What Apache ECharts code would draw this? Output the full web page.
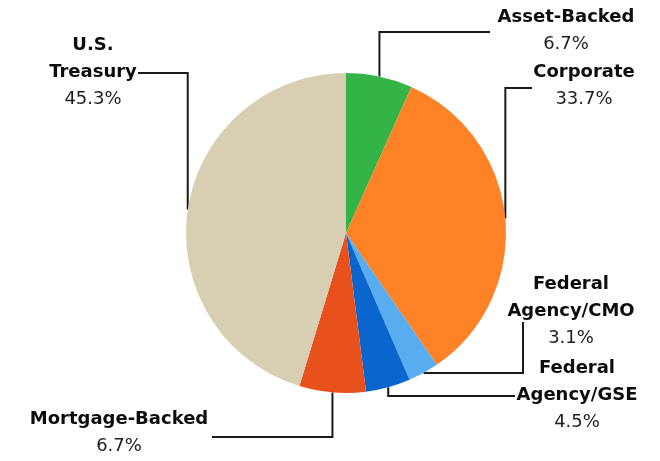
<!DOCTYPE html>
<html>
<head>
<meta charset="utf-8">
<script src="https://cdn.jsdelivr.net/npm/echarts@6/dist/echarts.min.js"></script>
<style>
  html, body { margin: 0; padding: 0; background: #ffffff; }
  #chart { width: 660px; height: 461px; }
</style>
</head>
<body>
<div id="chart"></div>
<script>
// Portfolio allocation by sector (percent of total)
const categories = [
  'Asset-Backed',
  'Corporate',
  'Federal\nAgency/CMO',
  'Federal\nAgency/GSE',
  'Mortgage-Backed',
  'U.S.\nTreasury'
];
const shares = [6.7, 33.7, 3.1, 4.5, 6.7, 45.3];
const sliceColors = ['#34b446', '#ff8226', '#58acf0', '#0a66cc', '#e8501c', '#d8cfb2'];

// Where each label block sits (centre), and how its elbow leader is routed:
// the leader drops/rises vertically from the slice, turns at elbowY and runs to endX.
const labelPlacement = [
  { x: 566, y: 31,  elbowY: 32,  endX: 490 },
  { x: 584, y: 86,  elbowY: 88,  endX: 532 },
  { x: 571, y: 311, elbowY: 373, endX: 523, rise: 322 },
  { x: 577, y: 395, elbowY: 396, endX: 515 },
  { x: 119, y: 433, elbowY: 437, endX: 212 },
  { x: 93,  y: 72,  elbowY: 73,  endX: 138 }
];

const chart = echarts.init(document.getElementById('chart'), null, { renderer: 'canvas' });

function sliceAnchor(dataIndex) {
  const data = chart.getModel().getSeriesByIndex(0).getData();
  const lay = data.getItemLayout(dataIndex);
  const mid = (lay.startAngle + lay.endAngle) / 2;
  return [lay.cx + lay.r * Math.cos(mid), lay.cy + lay.r * Math.sin(mid)];
}

chart.setOption({
  animation: false,
  backgroundColor: '#ffffff',
  series: [{
    type: 'pie',
    center: [346, 233],
    radius: 160,
    startAngle: 90,
    clockwise: true,
    silent: true,
    data: categories.map((name, i) => ({
      name: name,
      value: shares[i],
      itemStyle: { color: sliceColors[i] }
    })),
    label: {
      show: true,
      position: 'outside',
      formatter: (p) => {
        const nameLines = p.name.split('\n').map(l => '{n|' + l + '}');
        return nameLines.join('\n') + '\n{p|' + p.value.toFixed(1) + '%}';
      },
      rich: {
        n: { fontFamily: 'DejaVu Sans', fontWeight: 'bold', fontSize: 18, color: '#0d0d0d', lineHeight: 27, align: 'center' },
        p: { fontFamily: 'DejaVu Sans', fontSize: 18, color: '#1e1e1e', lineHeight: 27, align: 'center' }
      }
    },
    labelLine: {
      show: true,
      lineStyle: { color: '#1a1a1a', width: 2 }
    },
    labelLayout: (params) => {
      const i = params.dataIndex;
      const pl = labelPlacement[i];
      const a = sliceAnchor(i);
      let pts;
      if (pl.rise !== undefined) {
        pts = [a, [pl.endX, pl.elbowY], [pl.endX, pl.rise]];
      } else {
        pts = [a, [a[0], pl.elbowY], [pl.endX, pl.elbowY]];
      }
      return {
        x: pl.x,
        y: pl.y,
        align: 'center',
        verticalAlign: 'middle',
        labelLinePoints: pts
      };
    }
  }]
});
</script>
</body>
</html>
